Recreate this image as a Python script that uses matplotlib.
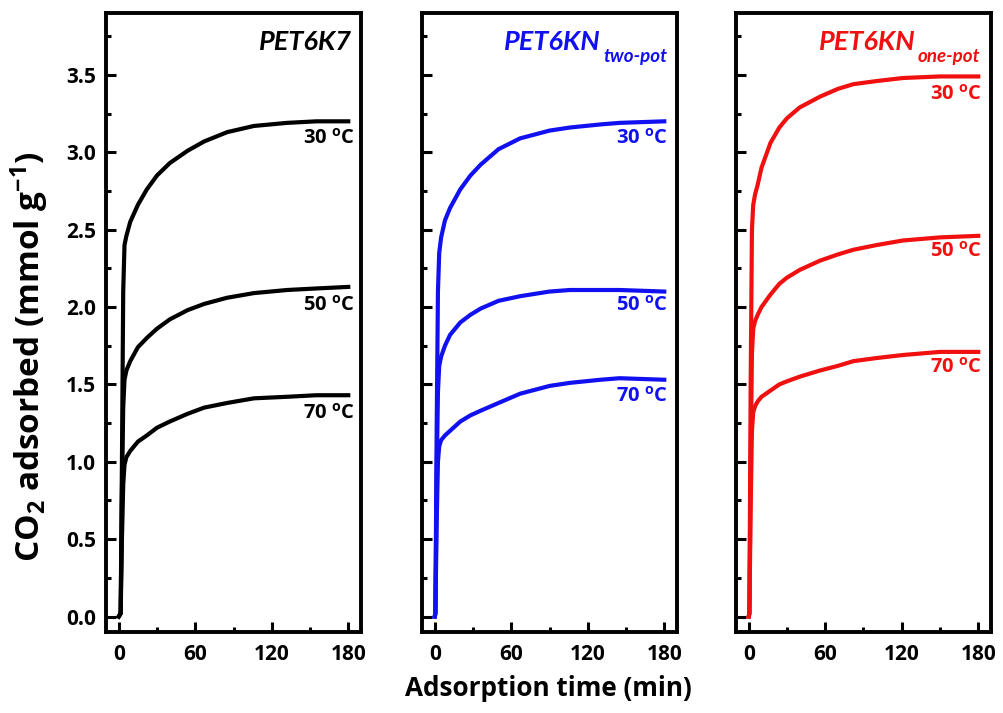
import matplotlib
matplotlib.use("Agg")
import matplotlib.pyplot as plt
from matplotlib.ticker import MultipleLocator

plt.rcParams['font.family'] = ['Open Sans', 'DejaVu Sans']
plt.rcParams['font.weight'] = 'bold'
plt.rcParams['mathtext.fontset'] = 'custom'
plt.rcParams['mathtext.rm'] = 'Open Sans:bold'
plt.rcParams['mathtext.bf'] = 'Open Sans:bold'
plt.rcParams['mathtext.it'] = 'Open Sans:bold:italic'
plt.rcParams['mathtext.default'] = 'bf'

# ---------------- data ----------------
temps = ["30", "50", "70"]

t_k7 = [0, 1.5, 2.5, 3.5, 4.5, 6, 9, 15, 22, 30, 40, 54, 67, 85, 106, 132, 155, 180]
k7_30 = [0, 0.02, 1.0, 2.1, 2.40, 2.46, 2.55, 2.66, 2.76, 2.85, 2.93, 3.01, 3.07, 3.13, 3.17, 3.19, 3.20, 3.20]
k7_50 = [0, 0.02, 0.8, 1.35, 1.53, 1.59, 1.65, 1.74, 1.80, 1.86, 1.92, 1.98, 2.02, 2.06, 2.09, 2.11, 2.12, 2.13]
k7_70 = [0, 0.02, 0.5, 0.85, 0.98, 1.03, 1.07, 1.13, 1.17, 1.22, 1.26, 1.31, 1.35, 1.38, 1.41, 1.42, 1.43, 1.43]

t_two = [0, 0.5, 1.5, 2.5, 3.5, 5, 8, 12, 20, 28, 36, 50, 67, 90, 106, 130, 145, 180]
two_30 = [0, 0.02, 1.2, 2.1, 2.35, 2.45, 2.56, 2.64, 2.76, 2.85, 2.92, 3.02, 3.09, 3.14, 3.16, 3.18, 3.19, 3.20]
two_50 = [0, 0.02, 0.9, 1.45, 1.62, 1.68, 1.75, 1.82, 1.90, 1.95, 1.99, 2.04, 2.07, 2.10, 2.11, 2.11, 2.11, 2.10]
two_70 = [0, 0.02, 0.6, 1.0, 1.10, 1.14, 1.17, 1.20, 1.26, 1.30, 1.33, 1.38, 1.44, 1.49, 1.51, 1.53, 1.54, 1.53]

t_one = [0, 0.5, 1.5, 2.5, 3.5, 5, 7, 10, 17, 24, 30, 40, 56, 70, 82, 100, 121, 150, 180]
one_30 = [0, 0.02, 1.5, 2.5, 2.66, 2.73, 2.79, 2.90, 3.06, 3.16, 3.22, 3.29, 3.36, 3.41, 3.44, 3.46, 3.48, 3.49, 3.49]
one_50 = [0, 0.02, 1.0, 1.7, 1.86, 1.91, 1.95, 2.00, 2.08, 2.15, 2.19, 2.24, 2.30, 2.34, 2.37, 2.40, 2.43, 2.45, 2.46]
one_70 = [0, 0.02, 0.7, 1.2, 1.32, 1.36, 1.39, 1.42, 1.46, 1.50, 1.52, 1.55, 1.59, 1.62, 1.65, 1.67, 1.69, 1.71, 1.71]

titles = ["PET6K7", "PET6KN", "PET6KN"]
subtitles = ["", "two-pot", "one-pot"]
colors = ["black", "#1010F0", "#F01010"]
x_ticks = [0, 60, 120, 180]
y_ticks = [0.0, 0.5, 1.0, 1.5, 2.0, 2.5, 3.0, 3.5]

# label y positions (data) for temperature labels
label_y = [[3.09, 2.01, 1.31], [3.09, 2.01, 1.42], [3.37, 2.36, 1.61]]
label_x = [185, 182.5, 183]

panels = [
    (t_k7, [k7_30, k7_50, k7_70]),
    (t_two, [two_30, two_50, two_70]),
    (t_one, [one_30, one_50, one_70]),
]

W, H = 1004, 713
fig = plt.figure(figsize=(W / 100, H / 100), dpi=100)
lefts = [106, 422, 736]
axes = []
for i, (t, series) in enumerate(panels):
    ax = fig.add_axes([lefts[i] / W, 1 - 632 / H, 255 / W, 619 / H])
    axes.append(ax)
    for s in series:
        ax.plot(t, s, color=colors[i], lw=3, solid_joinstyle='round')
    ax.set_xlim(-10, 190)
    ax.set_ylim(-0.1, 3.9)
    ax.set_xticks(x_ticks)
    ax.set_yticks(y_ticks)
    ax.xaxis.set_minor_locator(MultipleLocator(30))
    ax.yaxis.set_minor_locator(MultipleLocator(0.25))
    ax.tick_params(which='both', direction='in', top=False, right=False, width=2.2)
    ax.tick_params(which='major', length=7.5)
    ax.tick_params(which='minor', length=3.5)
    ax.tick_params(axis='x', which='major', pad=9, labelsize=15)
    ax.tick_params(axis='y', which='major', pad=7, labelsize=15)
    if i > 0:
        ax.tick_params(axis='y', labelleft=False)
    for sp in ax.spines.values():
        sp.set_linewidth(2.8)
    for lab in ax.get_xticklabels() + ax.get_yticklabels():
        lab.set_fontweight('bold')
    for j, tp in enumerate(temps):
        ax.text(label_x[i], label_y[i][j], tp + r" $^{\mathbf{o}}$C", color=colors[i],
                ha='right', va='center', fontsize=14.5, fontweight='bold')

fig.canvas.draw()
renderer = fig.canvas.get_renderer()

# titles
title_right = [352, 593, 910]
sub_right = [None, 667, 980]
for i in range(3):
    if subtitles[i]:
        st = fig.text(sub_right[i] / W, 1 - 62 / H, subtitles[i], color=colors[i],
                      ha='right', va='baseline', fontsize=13.5, fontweight='bold',
                      style='italic', family=['Lato', 'DejaVu Sans'])
        bb = st.get_window_extent(renderer)
        xr = bb.x0 - 2
    else:
        xr = title_right[i]
    fig.text(xr / W, 1 - 50 / H, titles[i], color=colors[i], ha='right', va='baseline',
             fontsize=19.5, fontweight='bold', style='italic', family=['Lato', 'DejaVu Sans'])

fig.text(30 / W, 1 - 357 / H, r"CO$_{\mathbf{2}}$ adsorbed (mmol g$^{\mathbf{-1}}$)",
         rotation=90, ha='center', va='center', fontsize=24, fontweight='bold')
fig.text(548 / W, 1 - 688 / H, "Adsorption time (min)", ha='center', va='center',
         fontsize=18.8, fontweight='bold')

fig.savefig("out.png", dpi=100)
